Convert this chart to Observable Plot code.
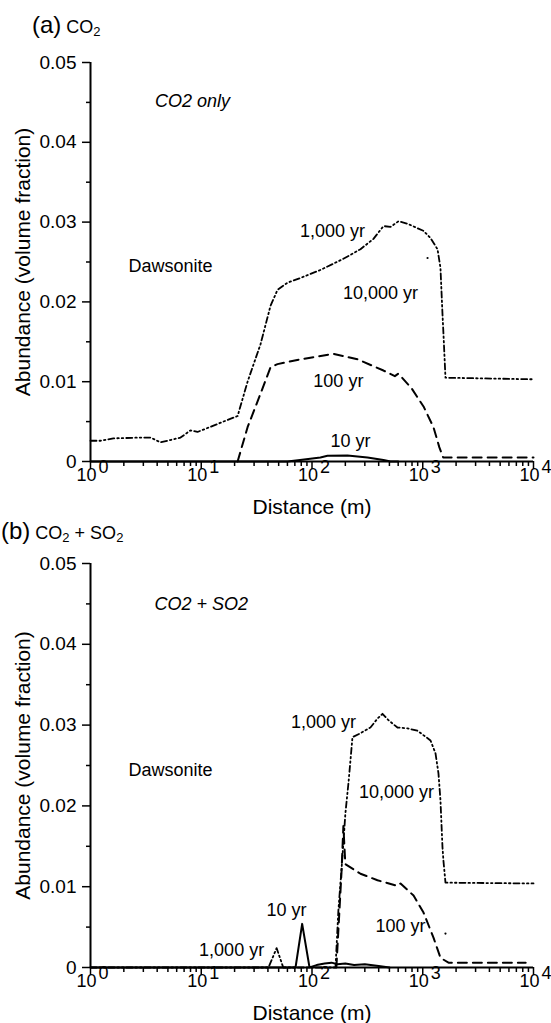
<!DOCTYPE html>
<html>
<head>
<meta charset="utf-8">
<script src="https://cdn.jsdelivr.net/npm/d3@7"></script>
<script src="https://cdn.jsdelivr.net/npm/@observablehq/plot@0.6"></script>
<style>
  html, body { margin: 0; padding: 0; background: white; }
  #root { position: relative; width: 551px; height: 1023px; overflow: hidden; font-family: 'Liberation Sans', Arial, Helvetica, sans-serif; color: black; }
  .title { position: absolute; white-space: nowrap; line-height: 1; }
  .title .big { font-size: 24px; }
  .title .small { font-size: 18px; }
  .title sub { font-size: 13px; vertical-align: -3px; }
  .panel { position: absolute; left: 0; }
</style>
</head>
<body>
<div id="root">
  <div class="title" style="left:32px; top:13px;"><span class="big">(a)</span><span class="small"> CO<sub>2</sub></span></div>
  <div class="panel" id="pa" style="top:40px;"></div>
  <div class="title" style="left:1px; top:519px;"><span class="big">(b)</span><span class="small"> CO<sub>2</sub> + SO<sub>2</sub></span></div>
  <div class="panel" id="pb" style="top:545px;"></div>
</div>
<script>
// ---------- axis ticks ----------
const yMajor = [0, 0.01, 0.02, 0.03, 0.04, 0.05];
const yMinor = [0.005, 0.015, 0.025, 0.035, 0.045];
const xMajor = [1, 10, 100, 1000, 10000];
const xExponents = ["0", "1", "2", "3", "4"];
const xMinor = [2,3,4,5,6,7,8,9,20,30,40,50,60,70,80,90,200,300,400,500,600,700,800,900,2000,3000,4000,5000,6000,7000,8000,9000];

// ---------- panel (a): CO2 only ----------
const aLongX = [1, 1.23, 1.61, 2.83, 3.48, 4.29, 6.5, 8.0, 9.25, 12.9, 19.5, 21.3, 26.2, 34.3, 42.2, 48.8, 60, 78.7, 119, 192, 274, 359, 442, 511, 604, 728, 1016, 1175, 1359, 1445, 1507, 1538, 1604, 10000];
const aLongY = [0.0026, 0.0026, 0.0029, 0.003, 0.003, 0.0024, 0.003, 0.0039, 0.0037, 0.0045, 0.0055, 0.0057, 0.0100, 0.0147, 0.0195, 0.0215, 0.0224, 0.023, 0.024, 0.0254, 0.0266, 0.0279, 0.0295, 0.0294, 0.0301, 0.0298, 0.0289, 0.028, 0.0266, 0.0243, 0.0185, 0.016, 0.0105, 0.0103];
const a100X = [21.3, 26.2, 34.3, 42.2, 48.8, 78.7, 156, 258, 442, 560, 600, 640, 790, 1016, 1250, 1410, 1530, 10000];
const a100Y = [0, 0.0043, 0.0085, 0.0118, 0.0122, 0.0128, 0.0135, 0.0128, 0.0114, 0.0107, 0.0110, 0.0106, 0.0092, 0.0069, 0.0043, 0.0018, 0.0005, 0.0005];
const a10X = [1, 60, 78, 119, 138, 209, 317, 442, 511, 600];
const a10Y = [0, 0, 0.0002, 0.0005, 0.00072, 0.00075, 0.0005, 0.0002, 0, 0];
const aStrayX = [1105];
const aStrayY = [0.0255];
const aLabels = ["Dawsonite", "1,000 yr", "10,000 yr", "100 yr", "10 yr"];
const aLabelX = [5.28, 153, 415, 173, 223];
const aLabelY = [0.0245, 0.0289, 0.0211, 0.0101, 0.0026];
const aNote = "CO2 only";
const aNoteX = 8.34, aNoteY = 0.0451;

// ---------- panel (b): CO2 + SO2 ----------
const bLongX = [1, 40.5, 47.9, 55, 163, 173, 189, 200, 214, 232, 274, 337, 390, 433, 491, 591, 728, 897, 1175, 1304, 1387, 1445, 1507, 1538, 1604, 10000];
const bLongY = [0, 0, 0.0024, 0, 0, 0.007, 0.014, 0.019, 0.023, 0.0285, 0.029, 0.0297, 0.0308, 0.0314, 0.0306, 0.0297, 0.0296, 0.0293, 0.0281, 0.0265, 0.024, 0.0207, 0.0149, 0.0132, 0.0105, 0.0104];
const b100X = [166, 185, 192, 200, 274, 390, 591, 630, 826, 1016, 1250, 1445, 1708, 8500];
const b100Y = [0, 0.012, 0.0175, 0.0128, 0.0116, 0.0108, 0.0101, 0.0104, 0.0089, 0.0068, 0.0037, 0.0012, 0.0006, 0.0006];
const b10X = [1, 71, 81.5, 95, 110, 130, 150, 170, 200, 240, 300, 400, 500];
const b10Y = [0, 0, 0.0054, 0, 0.0003, 0.0005, 0.0006, 0.0004, 0.0005, 0.0003, 0.0004, 0.0002, 0];
const bStrayX = [1604];
const bStrayY = [0.0042];
const bLabels = ["Dawsonite", "1,000 yr", "10 yr", "1,000 yr", "10,000 yr", "100 yr"];
const bLabelX = [5.28, 18.8, 58.8, 127, 579, 630];
const bLabelY = [0.0244, 0.0021, 0.0071, 0.0304, 0.0217, 0.0051];
const bNote = "CO2 + SO2";
const bNoteX = 10, bNoteY = 0.045;

const FONT = "'Liberation Sans', Arial, Helvetica, sans-serif";
const DASHDOTDOT = "6,3,1.5,3,1.5,3";
const DASHED = "9,6";

const zip = (xs, ys) => xs.map((x, i) => ({x, y: ys[i]}));

function panel(o) {
  const labels = o.labels.map((t, i) => ({text: t, x: o.labelX[i], y: o.labelY[i]}));
  return Plot.plot({
    width: 551,
    height: o.height,
    marginLeft: 90,
    marginRight: 18,
    marginTop: o.mt,
    marginBottom: o.mb,
    x: {type: "log", domain: [1, 10000]},
    y: {domain: [0, 0.05]},
    style: {fontFamily: FONT, fontSize: "18px", color: "black", background: "white", overflow: "visible"},
    marks: [
      Plot.axisY({ticks: yMajor, tickSize: 8, tickPadding: 6, strokeWidth: 1.5, label: null,
        tickFormat: d => d === 0 ? "0" : d.toFixed(2), fontSize: 19}),
      Plot.axisY({ticks: yMinor, tickSize: 4, strokeWidth: 1.5, label: null, tickFormat: () => ""}),
      Plot.axisX({ticks: xMajor, tickSize: 8, strokeWidth: 1.5, label: null, tickFormat: () => ""}),
      Plot.axisX({ticks: xMinor, tickSize: 5, strokeWidth: 1.5, label: null, tickFormat: () => ""}),
      Plot.ruleX([1], {strokeWidth: 2}),
      Plot.ruleY([0], {strokeWidth: 2}),
      Plot.text(xMajor, {x: d => d, text: () => "10", frameAnchor: "bottom", textAnchor: "end", dx: 6, dy: 14, lineAnchor: "middle", fontSize: 18}),
      Plot.text(xMajor, {x: d => d, text: (d, i) => xExponents[i], frameAnchor: "bottom", textAnchor: "start", dx: 8, dy: 6, lineAnchor: "middle", fontSize: 18}),
      Plot.text(["Distance (m)"], {frameAnchor: "bottom", dy: 46, lineAnchor: "middle", fontSize: 21}),
      Plot.text(["Abundance (volume fraction)"], {frameAnchor: "left", rotate: -90, dx: -67, lineAnchor: "middle", textAnchor: "middle", fontSize: 21}),
      Plot.line(zip(o.shortX, o.shortY), {x: "x", y: "y", stroke: "black", strokeWidth: 2}),
      Plot.line(zip(o.midX, o.midY), {x: "x", y: "y", stroke: "black", strokeWidth: 2, strokeDasharray: DASHED}),
      Plot.line(zip(o.longX, o.longY), {x: "x", y: "y", stroke: "black", strokeWidth: 1.8, strokeDasharray: DASHDOTDOT}),
      Plot.dot(zip(o.strayX, o.strayY), {x: "x", y: "y", r: 1.1, fill: "black", stroke: null}),
      Plot.text(labels, {x: "x", y: "y", text: "text", fontSize: 18, lineAnchor: "middle"}),
      Plot.text([o.note], {x: () => o.noteX, y: () => o.noteY, fontSize: 18, fontStyle: "italic", lineAnchor: "middle"})
    ]
  });
}

document.getElementById("pa").appendChild(panel({
  height: 480, mt: 22, mb: 59,
  longX: aLongX, longY: aLongY, midX: a100X, midY: a100Y, shortX: a10X, shortY: a10Y,
  strayX: aStrayX, strayY: aStrayY,
  labels: aLabels, labelX: aLabelX, labelY: aLabelY,
  note: aNote, noteX: aNoteX, noteY: aNoteY
}));
document.getElementById("pb").appendChild(panel({
  height: 478, mt: 18, mb: 56,
  longX: bLongX, longY: bLongY, midX: b100X, midY: b100Y, shortX: b10X, shortY: b10Y,
  strayX: bStrayX, strayY: bStrayY,
  labels: bLabels, labelX: bLabelX, labelY: bLabelY,
  note: bNote, noteX: bNoteX, noteY: bNoteY
}));
</script>
</body>
</html>
